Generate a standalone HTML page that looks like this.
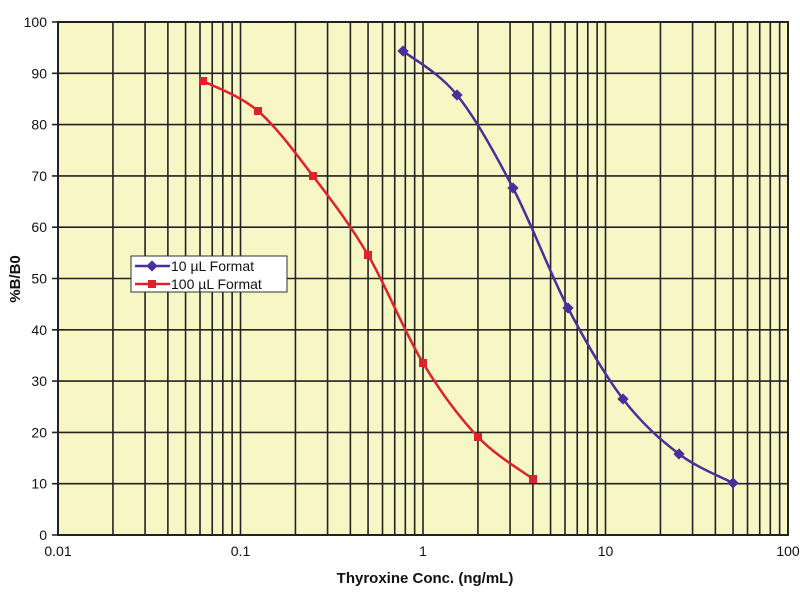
<!DOCTYPE html>
<html><head><meta charset="utf-8"><style>
body{margin:0;background:#fff;width:800px;height:600px;overflow:hidden}
svg text{font-family:"Liberation Sans",sans-serif;fill:#111}
</style></head><body>
<svg id="s" width="800" height="600" xmlns="http://www.w3.org/2000/svg">
<rect x="58" y="22" width="730" height="513" fill="#f7f7c6"/>
<g id="grid" stroke="#222" stroke-width="1.6"></g>
<g id="lbl" font-size="14"></g>
<rect x="58" y="22" width="730" height="513" fill="none" stroke="#222" stroke-width="2"/>
<path id="red" fill="none" stroke="#e0202a" stroke-width="2.5"/>
<path id="blue" fill="none" stroke="#4a2e9a" stroke-width="2.5"/>
<g id="mk"></g>
<rect x="131" y="256" width="156" height="36" fill="#fff" stroke="#333" stroke-width="1"/>
<line x1="135" y1="266" x2="170" y2="266" stroke="#4a2e9a" stroke-width="2.5"/>
<rect x="148" y="262" width="8" height="8" fill="#4a2e9a" transform="rotate(45 152 266)"/>
<text x="171" y="271" font-size="14">10 µL Format</text>
<line x1="135" y1="284" x2="170" y2="284" stroke="#e0202a" stroke-width="2.5"/>
<rect x="148" y="280" width="8" height="8" fill="#e0202a"/>
<text x="171" y="289" font-size="14">100 µL Format</text>
<text x="425" y="583" font-size="15" font-weight="bold" text-anchor="middle">Thyroxine Conc. (ng/mL)</text>
<text transform="translate(20 279) rotate(-90)" font-size="15" font-weight="bold" text-anchor="middle">%B/B0</text>
</svg>
<script>
const NS="http://www.w3.org/2000/svg";
function el(t,a,p){const e=document.createElementNS(NS,t);for(const k in a)e.setAttribute(k,a[k]);document.getElementById(p).appendChild(e);return e;}
const X=v=>58+182.5*(Math.log10(v)+2), Y=v=>535-5.13*v;
for(let d=-2;d<2;d++)for(let m=1;m<10;m++){const x=X(m*Math.pow(10,d));el("line",{x1:x,x2:x,y1:22,y2:535},"grid");}
for(let v=0;v<=100;v+=10){el("line",{x1:52,x2:788,y1:Y(v),y2:Y(v)},"grid");const t=el("text",{x:47,y:Y(v)+5,"text-anchor":"end"},"lbl");t.textContent=v;}
[["0.01",0.01],["0.1",0.1],["1",1],["10",10],["100",100]].forEach(([s,v])=>{const t=el("text",{x:X(v),y:556,"text-anchor":"middle"},"lbl");t.textContent=s;});
function path(pts){let d="M"+pts[0];for(let i=0;i<pts.length-1;i++){const p0=pts[i-1]||pts[i],p1=pts[i],p2=pts[i+1],p3=pts[i+2]||p2;
d+=` C${p1[0]+(p2[0]-p0[0])/6},${p1[1]+(p2[1]-p0[1])/6} ${p2[0]-(p3[0]-p1[0])/6},${p2[1]-(p3[1]-p1[1])/6} ${p2[0]},${p2[1]}`;}return d;}
const blue=[[403,51],[457,95],[513,188],[568,308],[623,399],[679,454],[733,483]];
const red=[[203,81],[258,111],[313,176],[368,255],[423,363],[478,437],[533,479]];
document.getElementById("blue").setAttribute("d",path(blue));
document.getElementById("red").setAttribute("d",path(red));
blue.forEach(p=>el("rect",{x:p[0]-4,y:p[1]-4,width:8,height:8,fill:"#4a2e9a",transform:`rotate(45 ${p[0]} ${p[1]})`},"mk"));
red.forEach(p=>el("rect",{x:p[0]-4,y:p[1]-4,width:8,height:8,fill:"#e0202a"},"mk"));
</script>
</body></html>
